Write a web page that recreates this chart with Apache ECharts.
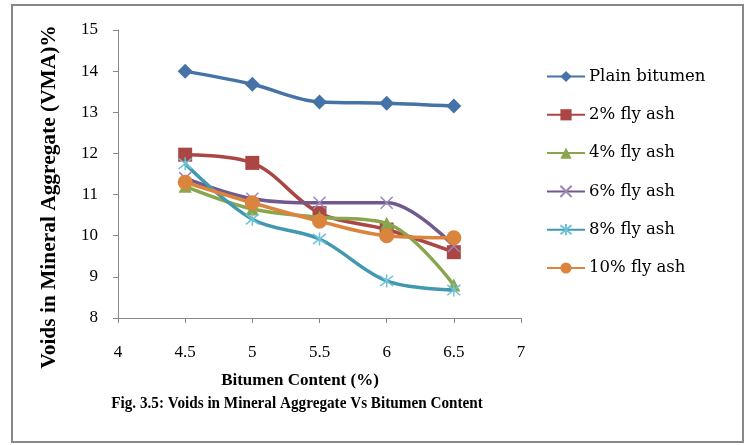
<!DOCTYPE html>
<html><head><meta charset="utf-8">
<script src="https://cdn.jsdelivr.net/npm/echarts@6/dist/echarts.min.js"></script>
<style>html,body{margin:0;padding:0;background:#fff}#c{width:748px;height:445px}</style>
</head><body><div id="c"></div>
<script>
var xValues = [4.5, 5, 5.5, 6, 6.5];
var seriesNames = ['Plain bitumen', '2% fly ash', '4% fly ash', '6% fly ash', '8% fly ash', '10% fly ash'];
var plainBitumen = [14.0, 13.68, 13.25, 13.22, 13.15];
var flyAsh2 = [11.97, 11.77, 10.55, 10.15, 9.6];
var flyAsh4 = [11.2, 10.65, 10.45, 10.3, 8.8];
var flyAsh6 = [11.4, 10.9, 10.8, 10.8, 9.75];
var flyAsh8 = [11.75, 10.4, 9.92, 8.9, 8.68];
var flyAsh10 = [11.3, 10.8, 10.35, 10.0, 9.95];
var xTicks = [4, 4.5, 5, 5.5, 6, 6.5, 7];
var yTicks = [8, 9, 10, 11, 12, 13, 14, 15];

var allData = [plainBitumen, flyAsh2, flyAsh4, flyAsh6, flyAsh8, flyAsh10];
var colors = ['#4572A7', '#AA4643', '#89A54E', '#71588F', '#4198AF', '#DB843D'];
var symbols = ['diamond', 'rect', 'triangle', 'path://M0,0L10,10M10,0L0,10', 'path://M5,0L5,10M1,1L9,9M9,1L1,9', 'circle'];
var sizes = [15, 14, 13, 12, 13, 15];
var FONT = 'Liberation Serif';

var series = allData.map(function (d, i) {
  var strokeSym = i === 3 || i === 4;
  return {
    name: seriesNames[i],
    type: 'line',
    smooth: 0.35,
    data: d.map(function (v, j) { return [xValues[j], v]; }),
    symbol: symbols[i],
    symbolSize: sizes[i],
    showAllSymbol: true,
    lineStyle: { color: colors[i], width: 3.5 },
    itemStyle: strokeSym ? { color: 'rgba(0,0,0,0)', borderColor: i === 3 ? '#9b87b8' : '#6ec3d6', borderWidth: 1.5 } : { color: colors[i] },
    z: 2 + i
  };
});

var chart = echarts.init(document.getElementById('c'), null, { renderer: 'canvas' });
chart.setOption({
  animation: false,
  backgroundColor: '#fff',
  color: colors,
  grid: { left: 118, right: 227, top: 30, bottom: 127 },
  xAxis: {
    type: 'value', min: 4, max: 7, interval: 0.5,
    axisLine: { lineStyle: { color: '#888', width: 1 } },
    axisTick: { show: true, length: 5, lineStyle: { color: '#888' } },
    splitLine: { show: false },
    axisLabel: { color: '#000', fontFamily: FONT, fontSize: 17, margin: 26,
      formatter: function (v) { return xTicks.indexOf(v) >= 0 ? String(v) : ''; } }
  },
  yAxis: {
    type: 'value', min: 8, max: 15, interval: 1,
    axisLine: { show: true, lineStyle: { color: '#888', width: 1 } },
    axisTick: { show: true, length: 5, lineStyle: { color: '#888' } },
    splitLine: { show: false },
    axisLabel: { color: '#000', fontFamily: FONT, fontSize: 17, margin: 20,
      formatter: function (v) { return yTicks.indexOf(v) >= 0 ? String(v) : ''; } }
  },
  legend: {
    orient: 'vertical', left: 541, top: 63,
    itemWidth: 38, itemHeight: 14, itemGap: 21.3,
    textStyle: { fontFamily: 'DejaVu Serif', fontSize: 16.5, color: '#000', padding: [0, 0, 0, -1] },
    data: seriesNames
  },
  graphic: [
    { type: 'rect', shape: { x: 12, y: 5, width: 731, height: 437 }, style: { fill: 'none', stroke: '#888', lineWidth: 2 }, silent: true },
    { type: 'text', x: 300, y: 381, style: { text: 'Bitumen Content (%)', font: 'bold 17px "Liberation Serif"', fill: '#000', textAlign: 'center', textVerticalAlign: 'middle' } },
    { type: 'text', x: 297, y: 404, scaleX: 0.894, style: { text: 'Fig. 3.5: Voids in Mineral Aggregate Vs Bitumen Content', font: 'bold 17px "Liberation Serif"', fill: '#000', textAlign: 'center', textVerticalAlign: 'middle' } },
    { type: 'text', x: 50, y: 197, rotation: Math.PI / 2, scaleX: 1.07, style: { text: 'Voids in Mineral Aggregate (VMA)%', font: 'bold 20px "Liberation Serif"', fill: '#000', textAlign: 'center', textVerticalAlign: 'middle' } }
  ],
  series: series
});
</script></body></html>
